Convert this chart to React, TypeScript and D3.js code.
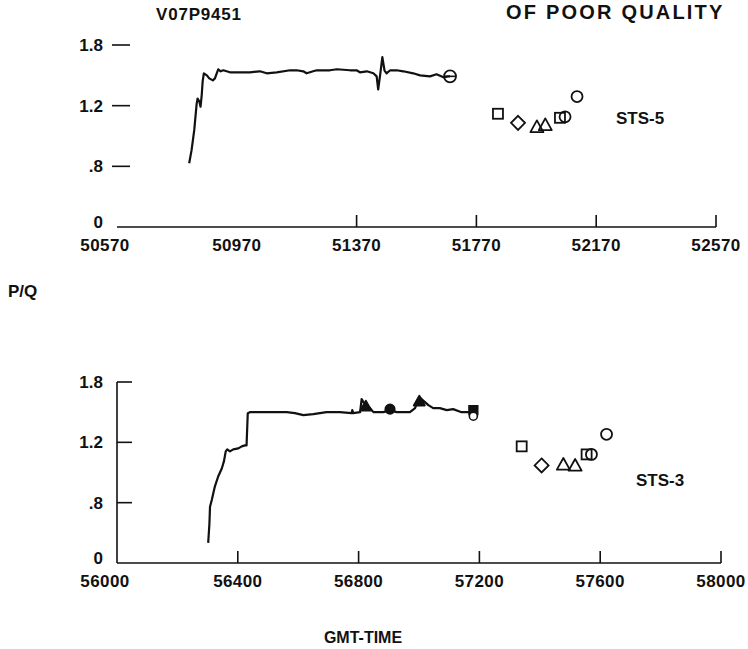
import React from "react";
import * as d3 from "d3";

// Trace V07P9451, flight STS-5: GMT time vs P/Q
const sts5Times = [50811, 50819, 50828, 50836, 50839, 50845, 50849, 50853, 50856, 50860, 50870, 50878, 50890, 50897, 50903, 50908, 50916, 50925, 50936, 50947, 51014, 51047, 51070, 51103, 51148, 51170, 51192, 51203, 51225, 51237, 51281, 51304, 51348, 51370, 51381, 51404, 51426, 51437, 51442, 51448, 51456, 51463, 51470, 51482, 51504, 51526, 51559, 51582, 51615, 51637, 51660, 51675, 51682];
const sts5PQ = [0.63, 0.76, 0.96, 1.22, 1.27, 1.24, 1.19, 1.31, 1.44, 1.52, 1.50, 1.47, 1.45, 1.47, 1.52, 1.56, 1.54, 1.55, 1.54, 1.53, 1.53, 1.54, 1.52, 1.53, 1.55, 1.55, 1.54, 1.52, 1.54, 1.55, 1.55, 1.56, 1.55, 1.55, 1.53, 1.54, 1.52, 1.49, 1.36, 1.49, 1.68, 1.55, 1.52, 1.55, 1.55, 1.54, 1.52, 1.50, 1.49, 1.51, 1.48, 1.49, 1.49];

// Trace for flight STS-3
const sts3Times = [56302, 56306, 56308, 56314, 56324, 56335, 56347, 56354, 56360, 56365, 56374, 56385, 56402, 56413, 56424, 56429, 56433, 56440, 56484, 56562, 56589, 56617, 56650, 56694, 56738, 56777, 56779, 56782, 56805, 56810, 56816, 56838, 56849, 56882, 56904, 56926, 56970, 56987, 57001, 57016, 57031, 57047, 57069, 57092, 57113, 57141, 57180];
const sts3PQ = [0.20, 0.39, 0.56, 0.63, 0.76, 0.86, 0.94, 1.01, 1.11, 1.13, 1.11, 1.13, 1.14, 1.16, 1.17, 1.17, 1.49, 1.50, 1.50, 1.50, 1.49, 1.47, 1.48, 1.50, 1.50, 1.49, 1.52, 1.49, 1.50, 1.63, 1.60, 1.54, 1.50, 1.50, 1.52, 1.50, 1.50, 1.54, 1.65, 1.61, 1.57, 1.54, 1.54, 1.52, 1.53, 1.50, 1.50];

// Discrete measurements after each trace
const sts5MarkShapes = ["square", "diamond", "triangle", "triangle", "square", "circle", "circle"];
const sts5MarkTimes = [51842, 51909, 51972, 52000, 52049, 52066, 52106];
const sts5MarkPQ = [1.12, 1.03, 0.99, 1.01, 1.08, 1.09, 1.29];

const sts3MarkShapes = ["square", "diamond", "triangle", "triangle", "square", "circle", "circle"];
const sts3MarkTimes = [57340, 57406, 57478, 57517, 57555, 57571, 57621];
const sts3MarkPQ = [1.16, 0.97, 0.98, 0.97, 1.08, 1.08, 1.28];

// Filled markers riding on the STS-3 trace
const sts3OnLineShapes = ["triangle", "circle", "triangle", "square"];
const sts3OnLineTimes = [56824, 56904, 57001, 57180];
const sts3OnLinePQ = [1.56, 1.53, 1.61, 1.52];

// Axis ticks
const yTickValues = [0, 0.6, 1.2, 1.8];
const yTickLabels = ["0", ".8", "1.2", "1.8"];
const sts5XTicks = [50570, 50970, 51370, 51770, 52170, 52570];
const sts5XTickLabels = ["50570", "50970", "51370", "51770", "52170", "52570"];
const sts3XTicks = [56000, 56400, 56800, 57200, 57600, 58000];
const sts3XTickLabels = ["56000", "56400", "56800", "57200", "57600", "58000"];

const FONT = "'Liberation Sans', Arial, sans-serif";
const INK = "#111";

function marker(shape: string, x: number, y: number, key: string, filled = false, scale = 1) {
  const common = {
    fill: filled ? INK : "none",
    stroke: INK,
    strokeWidth: 1.8,
  };
  if (shape === "square") {
    const s = 5 * scale;
    return <rect key={key} x={x - s} y={y - s} width={2 * s} height={2 * s} {...common} />;
  }
  if (shape === "diamond") {
    const s = 7 * scale;
    return <path key={key} d={`M${x},${y - s}L${x + s},${y}L${x},${y + s}L${x - s},${y}Z`} {...common} />;
  }
  if (shape === "triangle") {
    const s = 6.5 * scale;
    return <path key={key} d={`M${x},${y - s}L${x + s},${y + s * 0.8}L${x - s},${y + s * 0.8}Z`} {...common} strokeLinejoin="round" />;
  }
  return <circle key={key} cx={x} cy={y} r={5.5 * scale} {...common} />;
}

type PanelProps = {
  domain: [number, number];
  xRange: [number, number];
  yRange: [number, number];
  ticks: number[];
  tickLabels: string[];
  tickMarks: number[];
  times: number[];
  values: number[];
  markShapes: string[];
  markTimes: number[];
  markValues: number[];
  label: string;
  labelPos: [number, number];
  showYAxisLine: boolean;
  children?: (x: d3.ScaleLinear<number, number>, y: d3.ScaleLinear<number, number>) => React.ReactNode;
};

function Panel(p: PanelProps) {
  const x = d3.scaleLinear().domain(p.domain).range(p.xRange);
  const y = d3.scaleLinear().domain([0, 1.8]).range(p.yRange);
  const line = d3
    .line<number>()
    .x((_, i) => x(p.times[i]))
    .y((d) => y(d))
    .curve(d3.curveLinear);
  const y0 = y(0);
  return (
    <g>
      {/* time axis */}
      <line x1={p.xRange[0]} x2={p.xRange[1]} y1={y0} y2={y0} stroke={INK} strokeWidth={1.6} />
      {p.tickMarks.map((t) => (
        <line key={`tm${t}`} x1={x(t)} x2={x(t)} y1={y0} y2={y0 - 12} stroke={INK} strokeWidth={1.6} />
      ))}
      {p.ticks.map((t, i) => (
        <text
          key={`tl${t}`}
          x={x(t) + (i === 0 ? -12 : 0)}
          y={y0 + 24}
          textAnchor="middle"
          fontFamily={FONT}
          fontWeight="bold"
          fontSize={17}
          letterSpacing={0.4}
          fill={INK}
        >
          {p.tickLabels[i]}
        </text>
      ))}
      {/* P/Q axis */}
      {p.showYAxisLine && (
        <line x1={p.xRange[0]} x2={p.xRange[0]} y1={y(1.8)} y2={y0} stroke={INK} strokeWidth={1.6} />
      )}
      {yTickValues.map((v, i) => (
        <g key={`yt${v}`}>
          {v > 0 &&
            (p.showYAxisLine ? (
              <line x1={p.xRange[0]} x2={p.xRange[0] + 15} y1={y(v)} y2={y(v)} stroke={INK} strokeWidth={1.6} />
            ) : (
              <line x1={p.xRange[0] - 5} x2={p.xRange[0] + 13} y1={y(v)} y2={y(v)} stroke={INK} strokeWidth={1.6} />
            ))}
          <text
            x={103}
            y={y(v) + (v === 0 ? -5 : 0)}
            dy="0.36em"
            textAnchor="end"
            fontFamily={FONT}
            fontWeight="bold"
            fontSize={17}
            fill={INK}
          >
            {yTickLabels[i]}
          </text>
        </g>
      ))}
      <path d={line(p.values) ?? ""} fill="none" stroke={INK} strokeWidth={2.2} strokeLinejoin="round" />
      {p.children && p.children(x, y)}
      {p.markShapes.map((s, i) => marker(s, x(p.markTimes[i]), y(p.markValues[i]), `m${i}`))}
      <text
        x={p.labelPos[0]}
        y={p.labelPos[1]}
        fontFamily={FONT}
        fontWeight="bold"
        fontSize={17}
        fill={INK}
      >
        {p.label}
      </text>
    </g>
  );
}

export default function App() {
  return (
    <svg
      width={748}
      height={649}
      viewBox="0 0 748 649"
      style={{ position: "absolute", left: 0, top: 0, background: "#fff" }}
    >
      <rect width={748} height={649} fill="#fff" />
      <text x={506} y={19} fontFamily={FONT} fontWeight="bold" fontSize={20} letterSpacing={2.2} fill={INK}>
        OF POOR QUALITY
      </text>
      <text x={156} y={20} fontFamily={FONT} fontWeight="bold" fontSize={17} letterSpacing={0.8} fill={INK}>
        V07P9451
      </text>
      <Panel
        domain={[50570, 52570]}
        xRange={[117, 716]}
        yRange={[227, 45]}
        ticks={sts5XTicks}
        tickLabels={sts5XTickLabels}
        tickMarks={sts5XTicks.slice(2)}
        times={sts5Times}
        values={sts5PQ}
        markShapes={sts5MarkShapes}
        markTimes={sts5MarkTimes}
        markValues={sts5MarkPQ}
        label="STS-5"
        labelPos={[616, 124]}
        showYAxisLine={false}
      >
        {(x, y) => {
          const cx = x(sts5Times[sts5Times.length - 1]);
          const cy = y(sts5PQ[sts5PQ.length - 1]);
          return (
            <g>
              <circle cx={cx} cy={cy} r={6} fill="none" stroke={INK} strokeWidth={1.8} />
              <line x1={cx - 6} x2={cx + 6} y1={cy} y2={cy} stroke={INK} strokeWidth={1.6} />
            </g>
          );
        }}
      </Panel>
      <text x={8} y={297} fontFamily={FONT} fontWeight="bold" fontSize={17} fill={INK}>
        P/Q
      </text>
      <Panel
        domain={[56000, 58000]}
        xRange={[117, 721]}
        yRange={[563, 382]}
        ticks={sts3XTicks}
        tickLabels={sts3XTickLabels}
        tickMarks={sts3XTicks.slice(1)}
        times={sts3Times}
        values={sts3PQ}
        markShapes={sts3MarkShapes}
        markTimes={sts3MarkTimes}
        markValues={sts3MarkPQ}
        label="STS-3"
        labelPos={[636, 486]}
        showYAxisLine={true}
      >
        {(x, y) => (
          <g>
            {sts3OnLineShapes.map((s, i) =>
              marker(s, x(sts3OnLineTimes[i]), y(sts3OnLinePQ[i]), `f${i}`, true, 0.85)
            )}
            <circle
              cx={x(sts3OnLineTimes[3])}
              cy={y(1.46)}
              r={4}
              fill="#fff"
              stroke={INK}
              strokeWidth={1.6}
            />
          </g>
        )}
      </Panel>
      <text x={363} y={643} textAnchor="middle" fontFamily={FONT} fontWeight="bold" fontSize={16} fill={INK}>
        GMT-TIME
      </text>
    </svg>
  );
}
